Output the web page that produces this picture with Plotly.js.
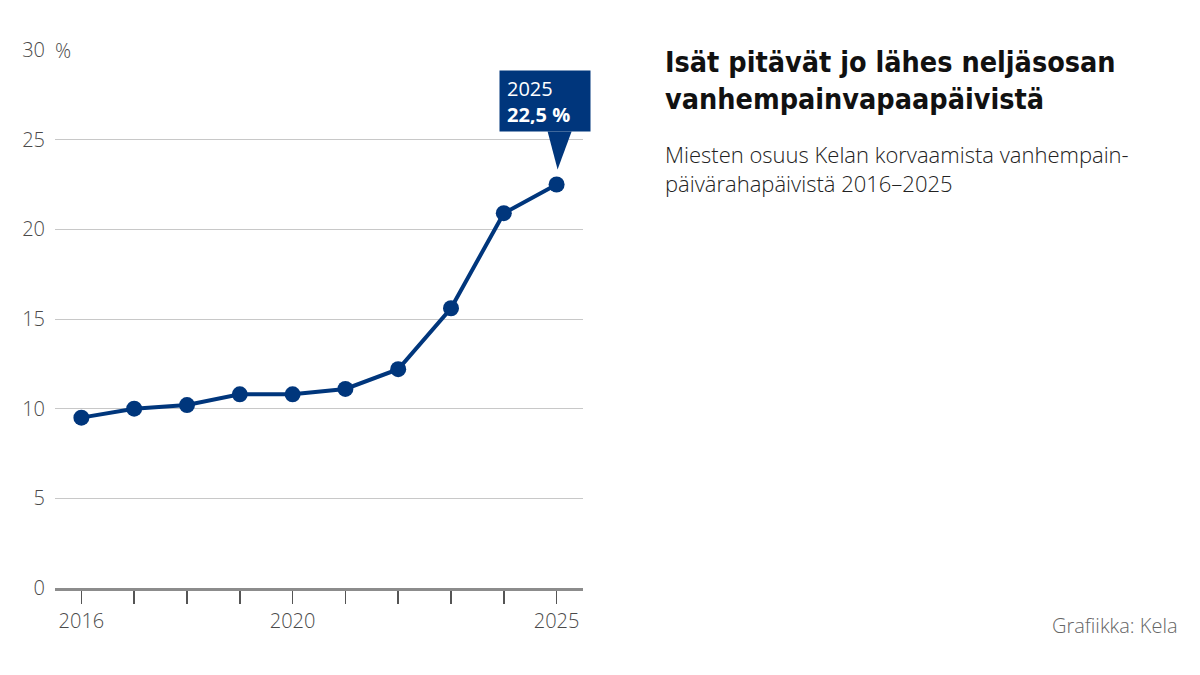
<!DOCTYPE html>
<html>
<head>
<meta charset="utf-8">
<script src="https://cdn.plot.ly/plotly-3.0.1.min.js"></script>
<style>
  html, body { margin: 0; padding: 0; background: #fff; }
  #chart { width: 1200px; height: 675px; }
</style>
</head>
<body>
<div id="chart"></div>
<script>
/* ── Miesten osuus vanhempainpäivärahapäivistä ── */

const years  = [2016, 2017, 2018, 2019, 2020, 2021, 2022, 2023, 2024, 2025];
const shares = [9.5, 10.0, 10.2, 10.8, 10.8, 11.1, 12.2, 15.6, 20.9, 22.5];

const yTickVals  = [0, 5, 10, 15, 20, 25, 30];
const yTickText  = ['0', '5', '10', '15', '20', '25', '30'];
const xLabelled  = [2016, 2020, 2025];

const TITLE    = 'Isät pitävät jo lähes neljäsosan<br>vanhempainvapaapäivistä';
const SUBTITLE = 'Miesten osuus Kelan korvaamista vanhempain-<br>päivärahapäivistä 2016–2025';
const CREDIT   = 'Grafiikka: Kela';

const BLUE = '#00367c';
const FONT = 'Open Sans, Noto Sans, sans-serif';
const TXT  = '#4a4a4a';

const lastX = years[years.length - 1];
const lastY = shares[shares.length - 1];

const trace = {
  x: years,
  y: shares,
  mode: 'lines+markers',
  line: { color: BLUE, width: 4 },
  marker: { color: BLUE, size: 16 },
  hoverinfo: 'skip',
};

const layout = {
  width: 1200,
  height: 675,
  paper_bgcolor: '#fff',
  plot_bgcolor: '#fff',
  margin: { t: 50, b: 87, l: 55, r: 617 },
  showlegend: false,
  font: { family: FONT, color: TXT, size: 20 },
  xaxis: {
    range: [2015.5, 2025.5],
    tickvals: years,
    ticktext: years.map(y => xLabelled.includes(y) ? String(y) : ''),
    ticks: 'outside',
    ticklen: 13,
    tickwidth: 1.5,
    tickcolor: '#555',
    showgrid: false,
    zeroline: false,
    showline: true,
    linecolor: '#8c8c8c',
    linewidth: 3,
    tickfont: { family: FONT, size: 20, color: TXT, weight: 300 },
    fixedrange: true,
  },
  yaxis: {
    range: [0, 30],
    tickvals: yTickVals,
    ticktext: yTickText,
    showgrid: true,
    gridcolor: '#c8c8c8',
    gridwidth: 1,
    zeroline: false,
    ticks: '',
    ticklabelstandoff: 9,
    tickfont: { family: FONT, size: 20, color: TXT, weight: 300 },
    fixedrange: true,
  },
  shapes: [
    {
      // callout pointer
      type: 'path',
      xref: 'x', yref: 'y',
      xsizemode: 'pixel', ysizemode: 'pixel',
      xanchor: lastX, yanchor: lastY,
      path: 'M -9 53 L 15 53 L 1 15 Z',
      fillcolor: BLUE,
      line: { width: 0 },
    },
  ],
  annotations: [
    {
      xref: 'paper', yref: 'y',
      x: -0.006, y: yTickVals[yTickVals.length - 1],
      xanchor: 'left', yanchor: 'middle',
      text: '%',
      showarrow: false,
      bgcolor: '#fff',
      borderpad: 2,
      font: { family: FONT, size: 20, color: TXT, weight: 300 },
    },
    {
      xref: 'x', yref: 'y',
      x: lastX, y: lastY,
      xanchor: 'left', yanchor: 'bottom',
      xshift: -58, yshift: 53,
      text: lastX + '<br><b>' + String(lastY).replace('.', ',') + ' %</b>',
      showarrow: false,
      align: 'left',
      width: 76, height: 46,
      borderpad: 7,
      bgcolor: BLUE,
      font: { family: FONT, size: 20, color: '#fff' },
    },
    {
      xref: 'paper', yref: 'paper',
      x: 1.1515, y: 1.012,
      xanchor: 'left', yanchor: 'top',
      text: '<b>' + TITLE + '</b>',
      showarrow: false,
      align: 'left',
      font: { family: 'DejaVu Sans Condensed, DejaVu Sans, sans-serif', size: 28.5, color: '#111' },
    },
    {
      xref: 'paper', yref: 'paper',
      x: 1.1515, y: 0.838,
      xanchor: 'left', yanchor: 'top',
      text: SUBTITLE,
      showarrow: false,
      align: 'left',
      font: { family: FONT, size: 22, color: '#222', weight: 300 },
    },
    {
      xref: 'paper', yref: 'paper',
      x: 2.1307, y: -0.069,
      xanchor: 'right', yanchor: 'middle',
      text: CREDIT,
      showarrow: false,
      font: { family: FONT, size: 20, color: '#666', weight: 300 },
    },
  ],
};

Plotly.newPlot('chart', [trace], layout, { displayModeBar: false, staticPlot: true });
</script>
</body>
</html>
